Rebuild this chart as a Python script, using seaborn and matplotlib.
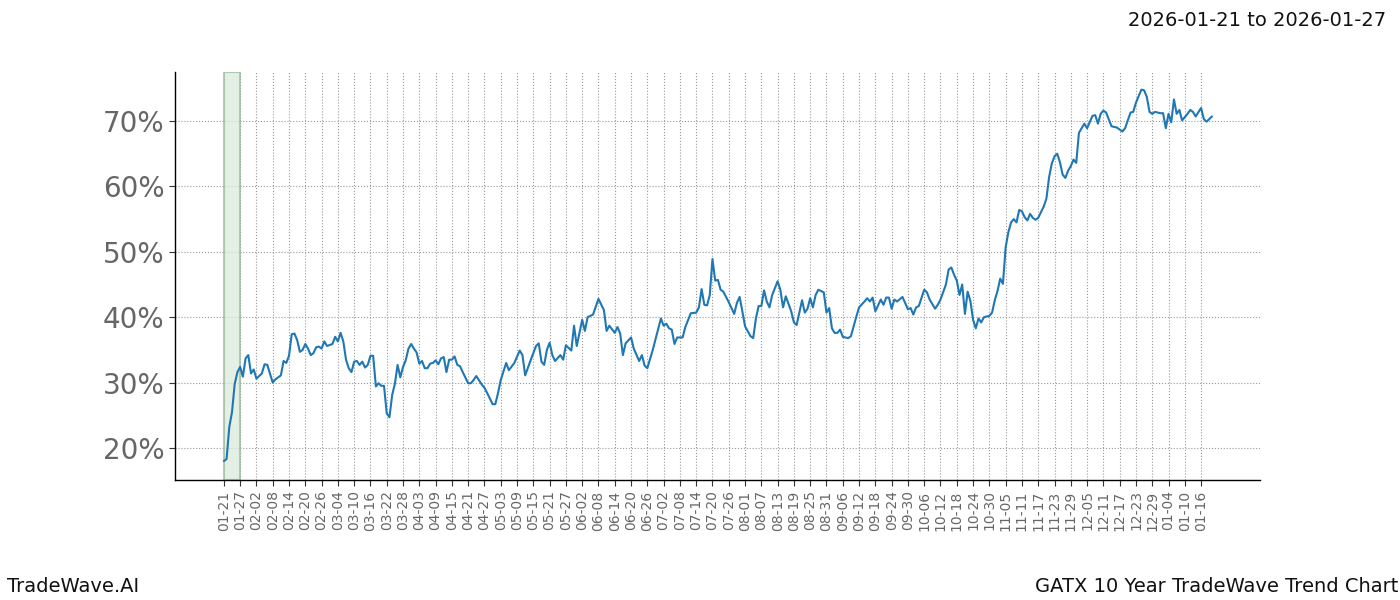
import numpy as np
import pandas as pd
import matplotlib
matplotlib.use("Agg")
import matplotlib.pyplot as plt
import matplotlib.dates as mdates
import seaborn as sns

start_date = "2025-01-21"
day_offsets = [0,1,2,3,4,5,6,7,8,9,10,11,12,13,14,15,16,18,19,21,22,23,24,25,26,27,28,29,30,31,32,33,34,35,36,37,38,40,41,42,43,44,45,46,47,48,49,50,51,52,53,54,55,56,57,58,59,60,61,62,63,64,65,66,67,68,69,70,71,72,73,74,75,76,77,78,79,80,81,82,83,84,85,86,87,88,90,91,92,93,95,96,97,99,100,101,102,104,105,107,109,110,111,113,115,
 116,117,118,119,120,121,122,124,125,126,128,129,130,132,133,134,136,138,140,141,142,144,145,146,147,148,150,151,153,154,155,156,158,161,162,163,164,165,166,167,169,170,172,174,175,176,177,178,179,180,181,182,183,184,186,188,189,190,191,192,194,195,196,197,198,199,200,201,202,204,205,206,207,209,210,211,213,214,215,216,217,218,219,221,222,223,224,225,226,227,228,230,231,233,234,236,237,238,
 239,240,242,243,244,245,246,247,248,250,252,253,254,255,256,258,259,260,262,263,264,266,267,268,269,270,271,272,273,274,275,276,277,278,279,280,282,283,284,285,286,287,288,289,290,291,292,293,294,295,296,297,298,299,300,302,303,304,305,306,307,308,309,310,311,312,313,314,315,317,318,320,321,322,323,324,325,327,329,331,332,334,335,336,338,339,340,341,342,343,345,346,347,348,349,350,351,352,353,355,356,357,358,360,361,362,364]
trend_pct = [18.0,18.3,23.2,25.5,29.8,31.6,32.4,30.9,33.7,34.2,31.4,32.0,30.6,31.0,31.4,32.8,32.7,30.0,30.5,31.1,33.3,33.0,34.1,37.4,37.5,36.5,34.7,35.0,35.9,35.2,34.2,34.5,35.4,35.5,35.2,36.3,35.6,35.9,37.0,36.3,37.6,36.3,33.5,32.2,31.6,33.2,33.3,32.7,33.2,32.3,32.7,34.1,34.1,29.4,29.9,29.5,29.5,25.3,24.7,28.1,29.8,32.7,30.8,32.4,33.4,35.2,35.9,35.2,34.6,32.9,33.3,32.2,32.2,32.9,33.0,33.4,32.8,33.7,33.9,31.6,33.5,33.5,34.0,32.7,32.5,31.6,29.9,29.9,30.4,31.0,29.7,29.2,28.4,26.7,26.7,28.4,30.4,33.0,31.9,33.0,34.9,34.2,31.1,33.4,35.6,
 36.0,33.2,32.7,35.0,36.1,34.2,33.3,34.2,33.5,35.7,34.9,38.7,35.6,39.6,37.9,40.0,40.4,42.8,41.1,37.9,38.7,37.6,38.5,37.5,34.2,36.0,36.9,35.2,33.3,34.2,32.6,32.2,35.0,39.8,38.7,39.0,38.3,38.1,35.9,36.9,36.9,38.5,40.6,40.7,41.5,44.3,41.9,41.8,43.4,48.9,45.6,45.7,44.2,43.9,42.3,40.5,42.2,43.1,40.9,38.6,37.1,36.8,39.8,41.7,41.7,44.1,42.4,41.5,43.4,45.5,44.2,41.5,43.2,40.9,39.2,38.8,42.6,40.7,41.3,42.9,41.5,43.4,44.2,43.8,40.7,41.4,38.3,37.6,37.6,38.1,37.0,36.8,37.1,40.1,41.5,42.4,42.9,42.4,
 43.0,40.9,42.7,41.9,43.0,43.0,41.3,42.7,42.4,43.1,41.2,41.4,40.4,41.5,41.7,44.2,43.8,42.7,41.3,41.9,42.7,45.0,47.3,47.6,46.5,45.6,43.4,45.0,40.5,43.9,42.5,39.6,38.3,39.8,39.2,40.0,40.2,40.7,42.6,44.0,45.9,45.1,50.7,53.0,54.5,55.0,54.5,56.4,56.2,55.3,54.8,55.8,55.2,54.9,55.2,56.9,58.1,61.4,63.5,64.6,65.0,63.7,61.8,61.3,62.4,63.1,64.1,63.6,68.2,69.6,68.9,70.8,70.9,69.6,71.1,71.6,71.3,69.2,69.0,68.4,68.9,71.3,71.4,72.8,74.8,74.7,73.7,71.4,71.1,71.4,71.2,71.2,68.9,71.1,69.8,73.3,71.1,71.7,70.1,71.1,71.7,71.4,70.7,72.0,70.3,69.9,70.7]

title_range = "2026-01-21 to 2026-01-27"
footer_left = "TradeWave.AI"
footer_right = "GATX 10 Year TradeWave Trend Chart"

t0 = pd.Timestamp(start_date)
df = pd.DataFrame({"date": t0 + pd.to_timedelta(day_offsets, unit="D"), "pct": trend_pct})

sns.set_style("white")
fig = plt.figure(figsize=(14, 6), dpi=100)
ax = fig.add_axes([0.125, 0.2, 0.775, 0.68])
sns.lineplot(data=df, x="date", y="pct", ax=ax, color="#1f77b4", linewidth=1.5)

ax.axvspan(t0, t0 + pd.Timedelta(days=6), facecolor="#d8ead8", alpha=0.7,
           edgecolor="#9ab89a", linewidth=1.5)

ticks = pd.date_range(t0, t0 + pd.Timedelta(days=360), freq="6D")
ax.set_xticks(ticks)
ax.set_xticklabels([d.strftime("%m-%d") for d in ticks], rotation=90, fontsize=10, color="#666666")
ax.set_xlim(t0 - pd.Timedelta(days=18), t0 + pd.Timedelta(days=381.7))
ax.set_ylim(15.1, 77.5)
ax.set_yticks([20, 30, 40, 50, 60, 70])
ax.set_yticklabels([f"{v}%" for v in [20, 30, 40, 50, 60, 70]], fontsize=20, color="#666666")
ax.set_xlabel("")
ax.set_ylabel("")
ax.grid(True, color="#999999", linestyle=":", linewidth=0.8)
ax.tick_params(axis="both", length=4, color="#333333", left=True, bottom=True)
for s in ["top", "right"]:
    ax.spines[s].set_visible(False)
for s in ["left", "bottom"]:
    ax.spines[s].set_color("#000000")
    ax.spines[s].set_linewidth(1)

fig.text(0.99, 0.965, title_range, ha="right", va="center", fontsize=14, color="#111111")
fig.text(0.005, 0.022, footer_left, ha="left", va="center", fontsize=14, color="#111111")
fig.text(0.999, 0.022, footer_right, ha="right", va="center", fontsize=14, color="#111111")

fig.savefig("out.png", dpi=100)
